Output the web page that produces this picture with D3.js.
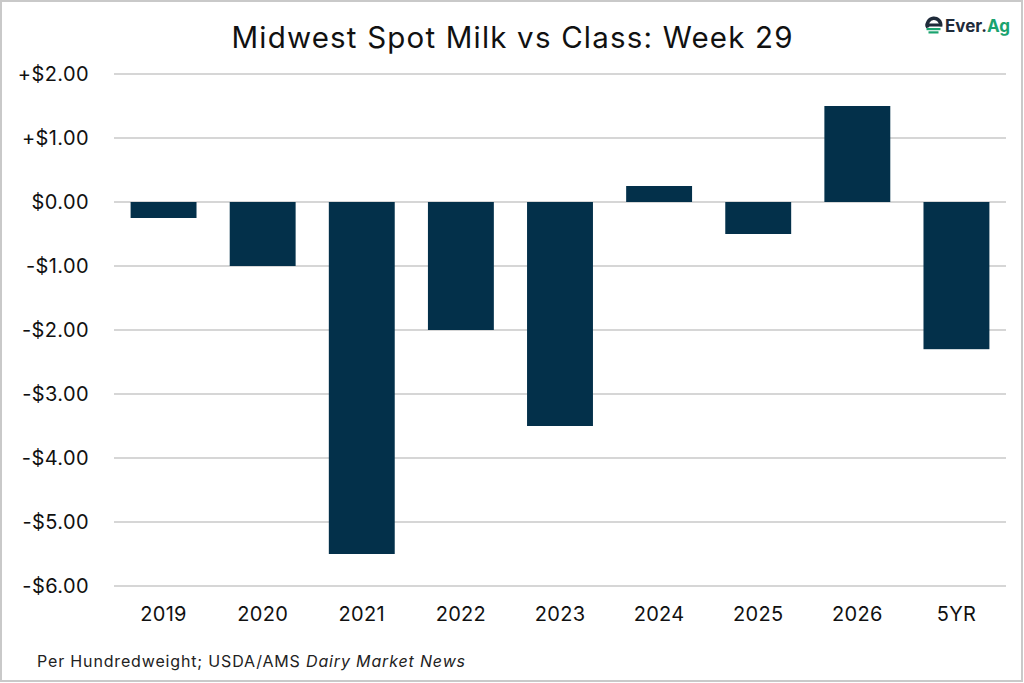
<!DOCTYPE html>
<html>
<head>
<meta charset="utf-8">
<script src="https://cdn.jsdelivr.net/npm/d3@7"></script>
<style>
  body { margin: 0; background: #fff; }
  svg { display: block; font-family: Inter, "Noto Sans", sans-serif; }
</style>
</head>
<body>
<main></main>
<script>
var w = 1024;
var h = 683;

// data
var categories = ["2019", "2020", "2021", "2022", "2023", "2024", "2025", "2026", "5YR"];
var spread = [-0.25, -1.0, -5.5, -2.0, -3.5, 0.25, -0.5, 1.5, -2.3];
var yTicks = [2, 1, 0, -1, -2, -3, -4, -5, -6];
var yTickLabels = ["+$2.00", "+$1.00", "$0.00", "-$1.00", "-$2.00", "-$3.00", "-$4.00", "-$5.00", "-$6.00"];

var title = "Midwest Spot Milk vs Class: Week 29";
var barColor = "#03304a";

var svg = d3.select("main").append("svg").attr("width", w).attr("height", h);

// frame
svg.append("rect")
  .attr("x", 1).attr("y", 1)
  .attr("width", w - 3).attr("height", h - 3)
  .attr("fill", "#fff")
  .attr("stroke", "#c9c9c9")
  .attr("stroke-width", 2);

// scales
var xScale = d3.scaleBand()
  .domain(categories)
  .range([114, 1006])
  .paddingInner(0.335)
  .paddingOuter(0.1675);

var yScale = d3.scaleLinear()
  .domain([-6, 2])
  .range([586, 74]);

// gridlines
svg.append("g")
  .selectAll("line")
  .data(yTicks)
  .enter()
  .append("line")
  .attr("x1", 114)
  .attr("x2", 1006)
  .attr("y1", function (d) { return yScale(d); })
  .attr("y2", function (d) { return yScale(d); })
  .attr("stroke", "#c8c8c8")
  .attr("stroke-width", 1.5);

// bars
svg.append("g")
  .selectAll("rect")
  .data(categories)
  .enter()
  .append("rect")
  .attr("x", function (d) { return xScale(d); })
  .attr("width", xScale.bandwidth())
  .attr("y", function (d, i) { return yScale(Math.max(0, spread[i])); })
  .attr("height", function (d, i) { return Math.abs(yScale(spread[i]) - yScale(0)); })
  .attr("fill", barColor);

// y axis
var yAxis = d3.axisLeft(yScale)
  .tickValues(yTicks)
  .tickSize(0)
  .tickPadding(0)
  .tickFormat(function (d, i) { return yTickLabels[i]; });

svg.append("g")
  .attr("class", "axis y")
  .attr("transform", "translate(89,0)")
  .call(yAxis)
  .call(function (g) { g.select(".domain").remove(); })
  .selectAll("text")
  .attr("font-size", "20px")
  .attr("font-family", "Inter, sans-serif")
  .attr("letter-spacing", "0.4px")
  .attr("fill", "#111");

// x axis
var xAxis = d3.axisBottom(xScale)
  .tickSize(0)
  .tickPadding(0);

svg.append("g")
  .attr("class", "axis x")
  .attr("transform", "translate(0,607)")
  .call(xAxis)
  .call(function (g) { g.select(".domain").remove(); })
  .selectAll("text")
  .attr("font-size", "20px")
  .attr("font-family", "Inter, sans-serif")
  .attr("letter-spacing", "0.3px")
  .attr("fill", "#111");

// title
svg.append("text")
  .attr("x", 512)
  .attr("y", 48)
  .attr("text-anchor", "middle")
  .attr("font-size", "29.5px")
  .attr("textLength", 561)
  .attr("lengthAdjust", "spacing")
  .attr("fill", "#111")
  .text(title);

// source note
var note = svg.append("text")
  .attr("x", 37)
  .attr("y", 667)
  .attr("font-size", "16px")
  .attr("textLength", 428)
  .attr("lengthAdjust", "spacing")
  .attr("fill", "#222");
note.append("tspan").text("Per Hundredweight; USDA/AMS ");
note.append("tspan").attr("font-style", "italic").text("Dairy Market News");

// logo
var logo = svg.append("g").attr("transform", "translate(934,25)");
logo.append("path")
  .attr("d", d3.arc()({ innerRadius: 5, outerRadius: 8.5, startAngle: -Math.PI / 2 - 0.4, endAngle: Math.PI / 2 + 0.2 }))
  .attr("fill", "#1f2b3a");
logo.append("rect").attr("x", -8.5).attr("y", -1.5).attr("width", 16).attr("height", 3).attr("fill", "#1f2b3a");
logo.append("rect").attr("x", -7.5).attr("y", 3).attr("width", 14).attr("height", 2.2).attr("fill", "#1aa36f");
logo.append("rect").attr("x", -5.5).attr("y", 6.3).attr("width", 10).attr("height", 2.2).attr("fill", "#1aa36f");
var logoText = logo.append("text")
  .attr("x", 11)
  .attr("y", 6.5)
  .attr("font-size", "17px")
  .attr("font-weight", "bold")
  .attr("textLength", 65)
  .attr("lengthAdjust", "spacingAndGlyphs")
  .attr("font-family", "Inter, sans-serif");
logoText.append("tspan").attr("fill", "#1f2b3a").text("Ever.");
logoText.append("tspan").attr("fill", "#1aa36f").text("Ag");
</script>
</body>
</html>
